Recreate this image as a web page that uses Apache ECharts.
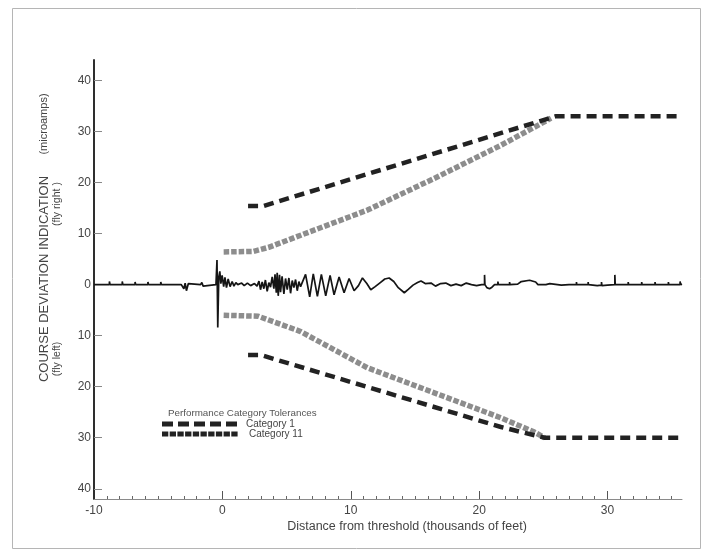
<!DOCTYPE html>
<html>
<head>
<meta charset="utf-8">
<script src="https://cdn.jsdelivr.net/npm/echarts@6.0.0/dist/echarts.min.js"></script>
<style>
  html, body { margin: 0; padding: 0; background: #fff; }
  #chart { width: 714px; height: 558px; }
</style>
</head>
<body>
<div id="chart"></div>
<script>
// tick positions
const yTicks = [-40, -30, -20, -10, 0, 10, 20, 30, 40];
const xMajorTicks = [0, 10, 20, 30];
const xLabels = [-10, 0, 10, 20, 30];
const xMinorTicks = [-9, -8, -7, -6, -5, -4, -3, -2, -1, 1, 2, 3, 4, 5, 6, 7, 8, 9,
  11, 12, 13, 14, 15, 16, 17, 18, 19, 21, 22, 23, 24, 25, 26, 27, 28, 29,
  31, 32, 33, 34, 35];

// tolerance limits, [distance (thousands of ft), deviation (microamps)]
const cat1Upper = [[2.0, 15.4], [3.2, 15.4], [26.0, 33.0], [35.8, 33.0]];
const cat1Lower = [[2.0, -13.8], [3.0, -13.8], [21.7, -27.9], [25.1, -30.0], [35.8, -30.0]];
const cat2Upper = [[0.1, 6.4], [2.4, 6.5], [3.6, 7.3], [11.3, 14.6], [16.5, 20.8], [21.7, 27.3], [25.6, 32.6]];
const cat2Lower = [[0.1, -6.0], [2.8, -6.2], [6.1, -9.2], [11.3, -16.3], [21.7, -26.1], [24.3, -28.9], [25.1, -30.0]];

// recorded course deviation trace
const trace = [
  [-10, 0], [-8.8, 0], [-8.8, 0.6], [-8.75, 0], [-7.8, 0], [-7.8, 0.6], [-7.75, 0],
  [-6.8, 0], [-6.8, 0.5], [-6.75, 0], [-5.8, 0], [-5.8, 0.5], [-5.75, 0],
  [-4.8, 0], [-4.8, 0.5], [-4.75, 0], [-3.2, 0], [-3.0, -0.8], [-2.9, 0.3], [-2.8, -1.2],
  [-2.65, 0.2], [-2.5, 0], [-1.7, 0], [-1.6, 0.4], [-1.5, -0.3], [-1.4, 0], [-0.5, 0],
  [-0.42, 4.8], [-0.36, -8.4], [-0.28, 1.5], [-0.2, 2.6], [-0.12, 0.2], [-0.02, 1.8],
  [0.1, -0.4], [0.2, 1.4], [0.32, -0.6], [0.45, 1.1], [0.6, -0.4], [0.76, 0.6], [0.9, -0.3],
  [1.05, 0.4], [1.2, 0], [1.5, 0.3], [1.7, -0.2], [1.95, 0.3], [2.2, -0.2], [2.5, 0.2],
  [2.7, -0.3], [2.85, 0.7], [2.97, -1.0], [3.1, 0.5], [3.23, -0.8], [3.35, 0.9], [3.49, -1.3],
  [3.62, 0.4], [3.75, -0.5], [3.88, 1.5], [4.01, -0.8], [4.1, 2.0], [4.2, -1.6], [4.27, 2.3],
  [4.35, -2.2], [4.45, 1.9], [4.53, -1.5], [4.65, 1.6], [4.79, -1.8], [4.92, 1.2], [5.05, -1.0],
  [5.18, 1.3], [5.31, -1.7], [5.44, 0.8], [5.57, -0.6], [5.7, 1.0], [5.83, -1.2], [5.96, 0.6],
  [6.09, -0.4], [6.2, 0.3], [6.48, 2.0], [6.8, -2.4], [7.08, 2.1], [7.4, -2.3], [7.71, 2.0],
  [8.05, -2.2], [8.39, 1.8], [8.7, -2.0], [9.09, 1.5], [9.48, -1.6], [9.87, 1.2], [10.26, -1.2],
  [10.6, -0.2], [10.91, 1.3], [11.25, 0.2], [11.56, -1.0], [11.9, -0.4], [12.3, 0.4], [12.65, 1.1],
  [12.99, 1.3], [13.35, 0.6], [13.7, -0.6], [14.17, -1.6], [14.5, -0.9], [14.85, -0.1], [15.2, 0.4],
  [15.47, 0.7], [15.8, 0.2], [16.25, 0.3], [16.6, -0.3], [17.0, 0.2], [17.4, 0.3], [17.8, -0.2],
  [18.2, 0.1], [18.6, -0.2], [19.0, 0.3], [19.4, 0], [19.8, -0.2], [20.2, 0], [20.42, 0],
  [20.42, 1.9], [20.45, 0], [20.6, -0.6], [20.81, -0.8], [21.0, -0.5], [21.2, 0], [21.46, 0],
  [21.46, 0.6], [21.5, 0], [22.37, 0], [22.37, 0.5], [22.4, 0], [23.0, 0.1], [23.28, 0.6],
  [23.93, 0.85], [24.4, 0.5], [24.58, 0], [25.2, 0], [25.5, 0.2], [26.4, -0.1], [27.0, 0],
  [27.58, 0], [27.58, 0.5], [27.6, 0], [28.49, 0], [28.49, 0.5], [28.52, 0], [29.2, -0.2],
  [29.53, -0.1], [29.53, 0.5], [29.56, -0.2], [30.0, -0.1], [30.57, 0], [30.57, 1.9], [30.6, 0],
  [31.61, 0], [31.61, 0.5], [31.64, 0], [32.66, 0], [32.66, 0.5], [32.69, 0], [33.7, 0],
  [33.7, 0.5], [33.73, 0], [34.74, 0], [34.74, 0.5], [34.77, 0], [35.65, 0], [35.65, 0.6],
  [35.7, 0], [35.8, 0.1]
];

const FONT = '"Liberation Sans", Arial, sans-serif';
const BLACK = '#222';
const GREY = '#8d8d8d';
const CAT1_DASH = [10, 6];
const CAT2_DASH = [5.5, 2];

const chart = echarts.init(document.getElementById('chart'), null, { renderer: 'canvas' });

const xBase = {
  type: 'value',
  min: -10,
  max: 35.8,
  position: 'bottom',
  splitLine: { show: false }
};

const tolSeries = (name, data, color, dash, width) => ({
  name,
  type: 'line',
  data,
  showSymbol: false,
  symbol: 'none',
  z: 3,
  lineStyle: { color, width, type: dash, cap: 'butt' }
});

const textEl = (text, x, y, size, opts = {}) => ({
  type: 'text',
  x,
  y,
  rotation: opts.rotation || 0,
  silent: true,
  style: {
    text,
    fill: opts.color || '#444',
    font: `${size}px ${FONT}`,
    align: opts.align || 'left',
    verticalAlign: 'middle'
  }
});

const swatch = (x1, x2, y, dash) => ({
  type: 'line',
  silent: true,
  shape: { x1, y1: y, x2, y2: y },
  style: { stroke: BLACK, lineWidth: 5, lineDash: dash, lineCap: 'butt' }
});

chart.setOption({
  animation: false,
  backgroundColor: '#fff',
  grid: { left: 94, right: 32, top: 60, bottom: 59, containLabel: false },
  xAxis: [
    {
      ...xBase,
      axisLine: { show: true, onZero: false, lineStyle: { color: '#8a8a8a', width: 1 } },
      axisTick: { show: true, inside: true, length: 3, customValues: xMinorTicks, lineStyle: { color: '#666' } },
      axisLabel: { show: false }
    },
    {
      ...xBase,
      axisLine: { show: false, onZero: false },
      axisTick: { show: true, inside: true, length: 8, customValues: xMajorTicks, lineStyle: { color: '#555' } },
      axisLabel: { customValues: xLabels, color: '#444', fontSize: 12, fontFamily: FONT, margin: 6 }
    }
  ],
  yAxis: {
    type: 'value',
    min: -42,
    max: 44,
    splitLine: { show: false },
    axisLine: { show: true, onZero: false, lineStyle: { color: '#2e2e2e', width: 2 } },
    axisTick: { show: true, inside: true, length: 8, customValues: yTicks, lineStyle: { color: '#888' } },
    axisLabel: {
      customValues: yTicks,
      formatter: v => String(Math.abs(v)),
      color: '#444',
      fontSize: 12,
      fontFamily: FONT,
      margin: 3
    }
  },
  series: [
    {
      name: 'Trace',
      type: 'line',
      data: trace,
      showSymbol: false,
      symbol: 'none',
      z: 2,
      lineStyle: { color: '#151515', width: 1.7 }
    },
    tolSeries('Category 11 upper', cat2Upper, GREY, CAT2_DASH, 5.5),
    tolSeries('Category 11 lower', cat2Lower, GREY, CAT2_DASH, 5.5),
    tolSeries('Category 1 upper', cat1Upper, BLACK, CAT1_DASH, 4.5),
    tolSeries('Category 1 lower', cat1Lower, BLACK, CAT1_DASH, 4.5)
  ],
  graphic: [
    {
      type: 'rect',
      silent: true,
      shape: { x: 12.5, y: 8.5, width: 688, height: 540 },
      style: { fill: 'none', stroke: '#b5b5b5', lineWidth: 1 }
    },
    // axis titles
    textEl('COURSE DEVIATION INDICATION', 44, 279, 13, { rotation: Math.PI / 2, align: 'center' }),
    textEl('(microamps)', 44, 124, 11, { rotation: Math.PI / 2, align: 'center' }),
    textEl('(fly left)', 57, 359, 10.5, { rotation: Math.PI / 2, align: 'center' }),
    textEl('(fly right )', 57, 204, 10.5, { rotation: Math.PI / 2, align: 'center' }),
    textEl('Distance from threshold (thousands of feet)', 407, 527, 12.5, { align: 'center' }),
    // legend
    textEl('Performance Category Tolerances', 168, 413, 9.8, { color: '#555' }),
    swatch(162, 237, 424, [11, 5]),
    textEl('Category 1', 246, 424, 10, { color: '#444' }),
    swatch(162, 238, 434, [6.3, 1.4]),
    textEl('Category 11', 249, 434, 10, { color: '#444' })
  ]
});
</script>
</body>
</html>
